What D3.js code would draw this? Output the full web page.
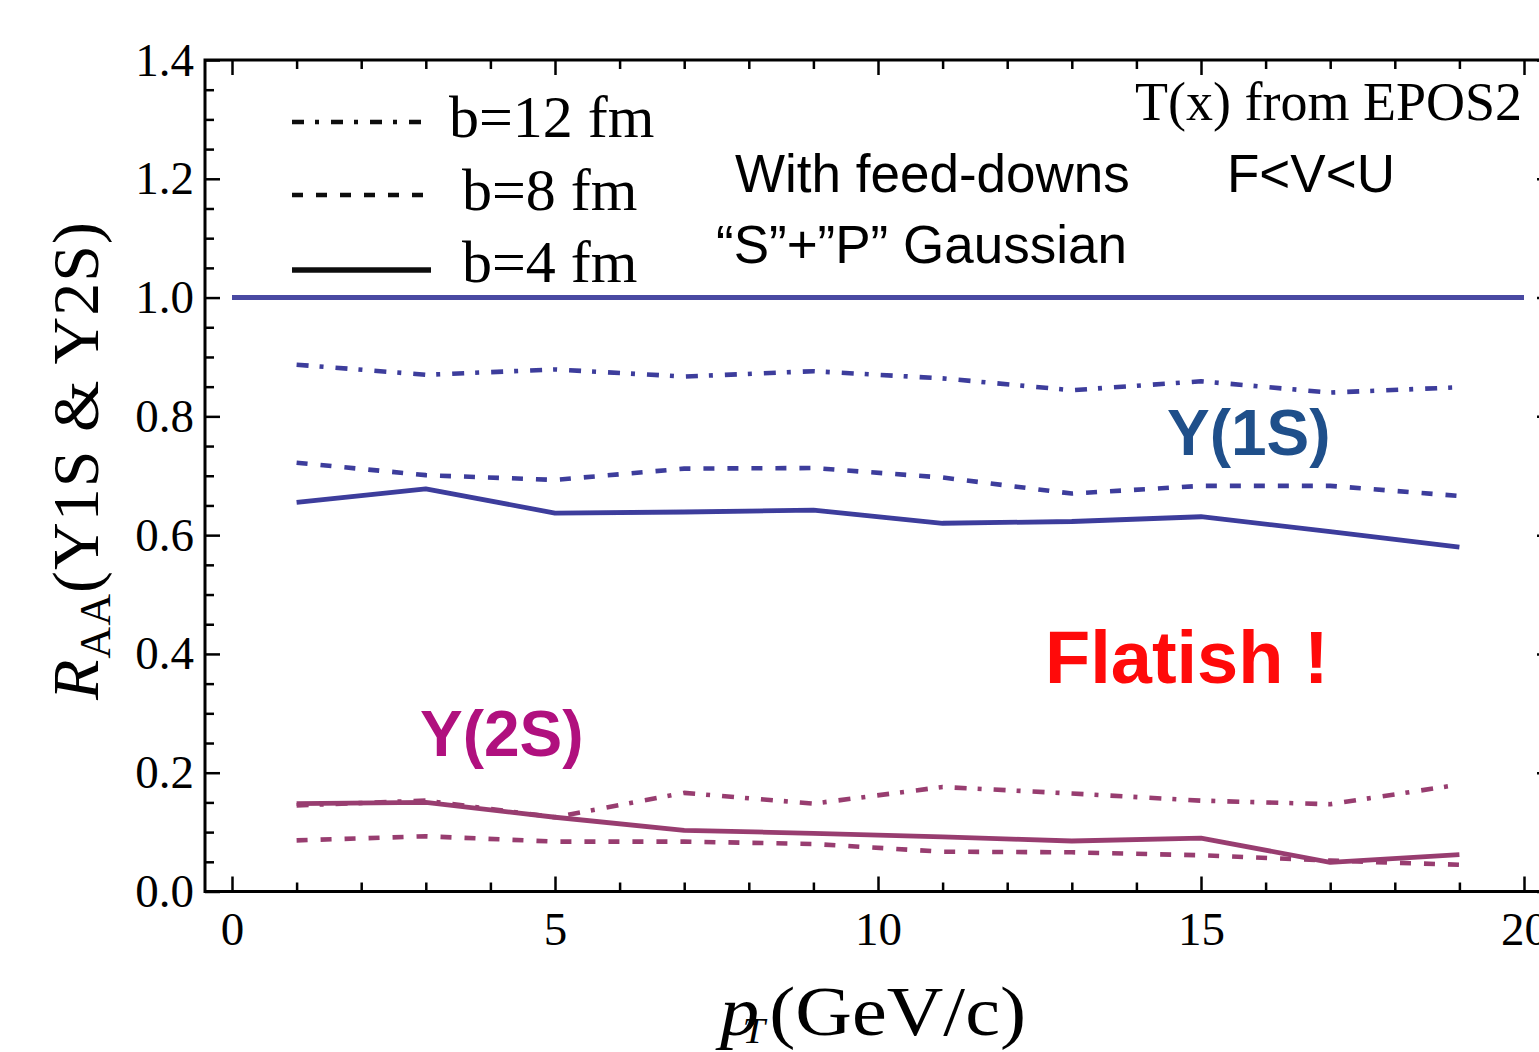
<!DOCTYPE html>
<html>
<head>
<meta charset="utf-8">
<script src="https://cdn.jsdelivr.net/npm/d3@7"></script>
<style>
  body { margin: 0; background: #ffffff; }
  svg { display: block; }
</style>
</head>
<body>
<svg id="chart" width="1539" height="1052"></svg>
<script>
// transverse momentum grid (GeV/c)
const pT = [1, 3, 5, 7, 9, 11, 13, 15, 17, 19];

// nuclear modification factor R_AA, Upsilon(1S)
const y1s_b12 = [0.887, 0.870, 0.879, 0.867, 0.876, 0.864, 0.844, 0.859, 0.840, 0.849];
const y1s_b8  = [0.722, 0.701, 0.693, 0.712, 0.713, 0.697, 0.670, 0.683, 0.683, 0.666];
const y1s_b4  = [0.655, 0.678, 0.637, 0.639, 0.642, 0.620, 0.623, 0.631, 0.606, 0.580];

// nuclear modification factor R_AA, Upsilon(2S)
const y2s_b12 = [0.145, 0.153, 0.125, 0.166, 0.148, 0.176, 0.165, 0.153, 0.147, 0.180];
const y2s_b8  = [0.086, 0.093, 0.084, 0.084, 0.080, 0.067, 0.066, 0.061, 0.052, 0.045];
const y2s_b4  = [0.148, 0.150, 0.125, 0.103, 0.098, 0.092, 0.085, 0.090, 0.049, 0.062];

// reference line R_AA = 1
const unityX = [0, 20];
const unityY = [1.0, 1.0];

// impact parameters shown in the legend
const impactLabels = ["b=12 fm", "b=8 fm", "b=4 fm"];

// axis ticks
const xMajor = [0, 5, 10, 15, 20];
const xMinor = d3.range(1, 20).filter(v => v % 5 !== 0);
const yMajor = [0, 0.2, 0.4, 0.6, 0.8, 1.0, 1.2, 1.4];
const yMinor = d3.range(0.05, 1.4, 0.05).map(v => +v.toFixed(2)).filter(v => Math.abs(v * 5 - Math.round(v * 5)) > 1e-6);

// ---- drawing ----
const svg = d3.select("#chart");
const frame = { left: 205, right: 1552, top: 60, bottom: 891.5 };

const x = d3.scaleLinear().domain([0, 20]).range([232, 1524]);
const y = d3.scaleLinear().domain([0, 1.4]).range([frame.bottom, frame.top]);

const serif = "'Liberation Serif', 'Times New Roman', serif";
const sans = "'Liberation Sans', Arial, sans-serif";

// slight softening of the plotted strokes; user-space region so flat lines are kept
const defs = svg.append("defs");
defs.append("filter").attr("id", "soft")
  .attr("filterUnits", "userSpaceOnUse")
  .attr("x", 0).attr("y", 0).attr("width", 1539).attr("height", 1052)
  .append("feGaussianBlur").attr("stdDeviation", 0.6);

const styleByB = {
  "b=12 fm": { dash: "12,11,4,12", width: 4.6 },
  "b=8 fm":  { dash: "11,13", width: 4.6 },
  "b=4 fm":  { dash: null, width: 4.8 }
};

const series = [
  { state: "1S", b: "b=12 fm", values: y1s_b12 },
  { state: "1S", b: "b=8 fm",  values: y1s_b8 },
  { state: "1S", b: "b=4 fm",  values: y1s_b4 },
  { state: "2S", b: "b=12 fm", values: y2s_b12 },
  { state: "2S", b: "b=8 fm",  values: y2s_b8 },
  { state: "2S", b: "b=4 fm",  values: y2s_b4 }
];
const colorByState = { "1S": "#3c3c9c", "2S": "#983e70" };

// axes (ticks point inward on all four sides)
function styleAxis(g, labels) {
  g.select(".domain").remove();
  g.selectAll(".tick line").attr("stroke", "#000").attr("stroke-width", 2.5);
  g.attr("font-family", serif).attr("font-size", 47);
  g.selectAll(".tick text").attr("fill", "#000");
  if (!labels) g.selectAll(".tick text").remove();
}

svg.append("g").attr("transform", `translate(0,${frame.bottom})`)
  .call(d3.axisBottom(x).tickValues(xMajor).tickSize(-15).tickPadding(20).tickFormat(d3.format("d")))
  .call(g => styleAxis(g, true));
svg.append("g").attr("transform", `translate(0,${frame.bottom})`)
  .call(d3.axisBottom(x).tickValues(xMinor).tickSize(-9).tickFormat(""))
  .call(g => styleAxis(g, false));
svg.append("g").attr("transform", `translate(0,${frame.top})`)
  .call(d3.axisTop(x).tickValues(xMajor).tickSize(-15).tickFormat(""))
  .call(g => styleAxis(g, false));
svg.append("g").attr("transform", `translate(0,${frame.top})`)
  .call(d3.axisTop(x).tickValues(xMinor).tickSize(-9).tickFormat(""))
  .call(g => styleAxis(g, false));

svg.append("g").attr("transform", `translate(${frame.left},0)`)
  .call(d3.axisLeft(y).tickValues(yMajor).tickSize(-15).tickPadding(11).tickFormat(d3.format(".1f")))
  .call(g => styleAxis(g, true));
svg.append("g").attr("transform", `translate(${frame.left},0)`)
  .call(d3.axisLeft(y).tickValues(yMinor).tickSize(-9).tickFormat(""))
  .call(g => styleAxis(g, false));
svg.append("g").attr("transform", `translate(${frame.right},0)`)
  .call(d3.axisRight(y).tickValues(yMajor).tickSize(-15).tickFormat(""))
  .call(g => styleAxis(g, false));
svg.append("g").attr("transform", `translate(${frame.right},0)`)
  .call(d3.axisRight(y).tickValues(yMinor).tickSize(-9).tickFormat(""))
  .call(g => styleAxis(g, false));

svg.append("rect")
  .attr("x", frame.left).attr("y", frame.top)
  .attr("width", frame.right - frame.left).attr("height", frame.bottom - frame.top)
  .attr("fill", "none").attr("stroke", "#000").attr("stroke-width", 3);

// R_AA = 1 line
const line = d3.line().x(d => x(d[0])).y(d => y(d[1]));
svg.append("path")
  .datum(d3.zip(unityX, unityY))
  .attr("d", line)
  .attr("fill", "none").attr("stroke", "#4a4aa2").attr("stroke-width", 5)
  .attr("filter", "url(#soft)");

// model curves
svg.append("g").selectAll("path")
  .data(series)
  .join("path")
  .attr("d", s => line(d3.zip(pT, s.values)))
  .attr("fill", "none")
  .attr("stroke", s => colorByState[s.state])
  .attr("stroke-width", s => styleByB[s.b].width)
  .attr("stroke-dasharray", s => styleByB[s.b].dash)
  .attr("stroke-linejoin", "round")
  .attr("filter", "url(#soft)");

// legend
const legendRows = [
  { x1: 292, x2: 421, y: 122, tx: 449, ty: 137 },
  { x1: 292, x2: 431, y: 195, tx: 462, ty: 210 },
  { x1: 292, x2: 431, y: 270, tx: 462, ty: 282 }
];
const legend = svg.append("g");
impactLabels.forEach((lab, i) => {
  const r = legendRows[i];
  legend.append("line")
    .attr("x1", r.x1).attr("x2", r.x2).attr("y1", r.y).attr("y2", r.y)
    .attr("stroke", "#111").attr("stroke-width", lab === "b=4 fm" ? 5.5 : 4.6)
    .attr("stroke-dasharray", styleByB[lab].dash)
    .attr("filter", "url(#soft)");
  legend.append("text")
    .attr("x", r.tx).attr("y", r.ty)
    .attr("font-family", serif).attr("font-size", 60)
    .text(lab);
});

// annotations
svg.append("text")
  .attr("x", 1522).attr("y", 120).attr("text-anchor", "end")
  .attr("font-family", serif).attr("font-size", 54)
  .text("T(x) from EPOS2");

const notes = [
  { t: "With feed-downs", x: 735, y: 192 },
  { t: "F<V<U", x: 1227, y: 192 },
  { t: "\u201CS\u201D+\u201DP\u201D Gaussian", x: 716, y: 263 }
];
svg.append("g").selectAll("text").data(notes).join("text")
  .attr("x", d => d.x).attr("y", d => d.y)
  .attr("font-family", sans).attr("font-size", 53)
  .text(d => d.t);

svg.append("text")
  .attr("x", 1167).attr("y", 455)
  .attr("font-family", sans).attr("font-size", 64).attr("font-weight", "bold")
  .attr("fill", "#1f4f8a")
  .text("Y(1S)");

svg.append("text")
  .attr("x", 420).attr("y", 756)
  .attr("font-family", sans).attr("font-size", 64).attr("font-weight", "bold")
  .attr("fill", "#b0107e")
  .text("Y(2S)");

svg.append("text")
  .attr("x", 1045).attr("y", 683)
  .attr("font-family", sans).attr("font-size", 74).attr("font-weight", "bold")
  .attr("fill", "#ff0a0a")
  .text("Flatish !");

// axis titles
const xt = svg.append("text")
  .attr("transform", "translate(720,1035) scale(1.12,1)")
  .attr("font-family", serif).attr("font-size", 70);
xt.append("tspan").attr("x", 0).attr("font-style", "italic").text("p");
xt.append("tspan").attr("x", 20).attr("dy", 8).attr("font-size", 36).attr("font-style", "italic").text("T");
xt.append("tspan").attr("x", 44).attr("dy", -8).text("(GeV/c)");

const yt = svg.append("text")
  .attr("transform", "translate(98,461) rotate(-90)")
  .attr("text-anchor", "middle")
  .attr("font-family", serif).attr("font-size", 66)
  .attr("textLength", 478).attr("lengthAdjust", "spacing");
yt.append("tspan").attr("font-style", "italic").text("R");
yt.append("tspan").attr("dy", 12).attr("font-size", 44).text("AA");
yt.append("tspan").attr("dy", -12).text("(Y1S & Y2S)");
</script>
</body>
</html>
